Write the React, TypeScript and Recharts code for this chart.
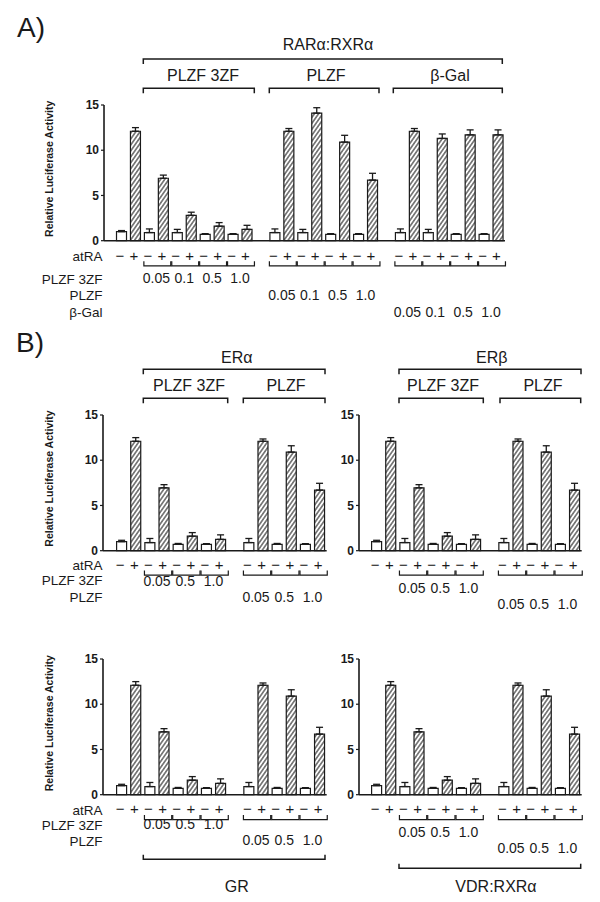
import React from 'react';
import { BarChart, Bar, XAxis, YAxis, ErrorBar, Cell } from 'recharts';

const FONT = "'Liberation Sans', Arial, Helvetica, sans-serif";
const INK = '#1a1a1a';

// Panel A: RARa:RXRa, each entry is one atRA -/+ pair
const rarGroups = ['', 'PLZF 3ZF', 'PLZF 3ZF', 'PLZF 3ZF', 'PLZF 3ZF', 'PLZF', 'PLZF', 'PLZF', 'PLZF', 'β-Gal', 'β-Gal', 'β-Gal', 'β-Gal'];
const rarDoses = ['', '0.05', '0.1', '0.5', '1.0', '0.05', '0.1', '0.5', '1.0', '0.05', '0.1', '0.5', '1.0'];
const rarMinus = [1.0, 0.9, 0.9, 0.7, 0.7, 0.9, 0.9, 0.7, 0.7, 0.9, 0.9, 0.7, 0.7];
const rarMinusErr = [0.12, 0.4, 0.35, 0.08, 0.08, 0.4, 0.35, 0.08, 0.08, 0.4, 0.35, 0.08, 0.08];
const rarPlus = [12.1, 6.9, 2.8, 1.6, 1.25, 12.1, 14.1, 10.9, 6.7, 12.1, 11.3, 11.7, 11.7];
const rarPlusErr = [0.4, 0.35, 0.35, 0.4, 0.45, 0.3, 0.6, 0.75, 0.75, 0.3, 0.5, 0.55, 0.55];
const rarRowNames = ['PLZF 3ZF', 'PLZF', 'β-Gal'];

// Panel B: ERa, ERb, GR and VDR:RXRa all show the same set of values
const bGroups = ['', 'PLZF 3ZF', 'PLZF 3ZF', 'PLZF 3ZF', 'PLZF', 'PLZF', 'PLZF'];
const bDoses = ['', '0.05', '0.5', '1.0', '0.05', '0.5', '1.0'];
const bMinus = [1.0, 0.9, 0.7, 0.7, 0.9, 0.7, 0.7];
const bMinusErr = [0.15, 0.45, 0.1, 0.08, 0.45, 0.1, 0.08];
const bPlus = [12.1, 6.95, 1.6, 1.25, 12.1, 10.9, 6.7];
const bPlusErr = [0.4, 0.35, 0.4, 0.5, 0.25, 0.7, 0.75];
const bRowNames = ['PLZF 3ZF', 'PLZF'];

const yTicks = [0, 5, 10, 15];

type Row = {
  key: string;
  value: number | null;
  err?: [number, number];
  sign: string;
  treated?: boolean;
  dose?: string;
  row?: number;
  bracket?: boolean;
};

function buildRows(groups: string[], doses: string[], minus: number[], minusErr: number[], plus: number[], plusErr: number[], rowNames: string[]): Row[] {
  const rows: Row[] = [];
  groups.forEach((g, i) => {
    // empty slot between groups of transfections
    if (i > 0 && g !== groups[i - 1] && groups[i - 1] !== '') rows.push({ key: `gap${i}`, value: null, sign: '' });
    rows.push({ key: `m${i}`, value: minus[i], err: [0, minusErr[i]], sign: '−', treated: false, dose: doses[i], row: rowNames.indexOf(g), bracket: g !== '' });
    rows.push({ key: `p${i}`, value: plus[i], err: [0, plusErr[i]], sign: '+', treated: true });
  });
  return rows;
}

const rarRows = buildRows(rarGroups, rarDoses, rarMinus, rarMinusErr, rarPlus, rarPlusErr, rarRowNames);
const bRows = buildRows(bGroups, bDoses, bMinus, bMinusErr, bPlus, bPlusErr, bRowNames);

const PLOT_H = 135.7;
const X_H = 90;

type Layout = { id: string; plotLeft: number; plotRight: number; plotTop: number; padLeft: number; signOffset: number; rowOffsets: number[] };

const layoutA: Layout = { id: 'hatchA', plotLeft: 104, plotRight: 505, plotTop: 105, padLeft: 10.5, signOffset: 20.5, rowOffsets: [42.8, 59.5, 76] };
const layoutB: Layout[] = [
  { id: 'hatchER1', plotLeft: 102.7, plotRight: 326.4, plotTop: 414.7, padLeft: 11.6, signOffset: 19.7, rowOffsets: [35, 51.3] },
  { id: 'hatchER2', plotLeft: 359, plotRight: 581.7, plotTop: 414.7, padLeft: 10.6, signOffset: 19.7, rowOffsets: [42.8, 58.5] },
  { id: 'hatchGR', plotLeft: 102.7, plotRight: 326.4, plotTop: 659.3, padLeft: 11.6, signOffset: 20.3, rowOffsets: [34.5, 50.5] },
  { id: 'hatchVDR', plotLeft: 359, plotRight: 581.7, plotTop: 659.3, padLeft: 10.6, signOffset: 20.3, rowOffsets: [42.3, 58.5] },
];

const AssayChart = ({ rows, layout }: { rows: Row[]; layout: Layout }) => {
  const { id, plotLeft, plotRight, plotTop, padLeft, signOffset, rowOffsets } = layout;
  const chartLeft = plotLeft - 40;
  const width = plotRight + 10 - chartLeft;
  const height = 10 + PLOT_H + X_H;
  const base = 10 + PLOT_H;
  const half = (plotRight - plotLeft - padLeft) / rows.length / 2;
  const byKey: Record<string, Row> = Object.fromEntries(rows.map(r => [r.key, r]));

  const renderTick = (p: any) => {
    const r = byKey[p.payload?.value];
    if (!r || !r.sign) return <g />;
    const x = p.x;
    const sy = base + signOffset;
    const by = sy + 4.7;
    const x1 = x - 5.5;
    const x2 = x1 + 4 * half - 1;
    return (
      <g>
        <text x={x - 1.5} y={sy - 0.5} textAnchor="middle" fontSize={15} fontFamily={FONT} fill={INK}>{r.sign}</text>
        {r.bracket && <path d={`M${x1},${sy}V${by}H${x2}V${sy}`} fill="none" stroke={INK} strokeWidth={1.2} />}
        {r.bracket && (
          <text x={x + half} y={base + rowOffsets[r.row ?? 0]} textAnchor="middle" fontSize={14} fontFamily={FONT} fill={INK}>{r.dose}</text>
        )}
      </g>
    );
  };

  return (
    <div style={{ position: 'absolute', left: chartLeft, top: plotTop - 10 }}>
      <BarChart width={width} height={height} data={rows} margin={{ top: 10, right: 10, bottom: 0, left: 10 }}>
        <defs>
          <pattern id={id} patternUnits="userSpaceOnUse" width="3.4" height="3.4" patternTransform="rotate(35)">
            <rect width="3.4" height="3.4" fill="#fff" />
            <line x1="1.7" y1="0" x2="1.7" y2="3.4" stroke="#222" strokeWidth="1.05" />
          </pattern>
        </defs>
        <XAxis
          dataKey="key"
          interval={0}
          height={X_H}
          tickLine={false}
          axisLine={{ stroke: INK, strokeWidth: 1.6 }}
          padding={{ left: padLeft, right: 0 }}
          tick={renderTick}
        />
        <YAxis
          domain={[0, 15]}
          ticks={yTicks}
          width={30}
          tickSize={3}
          tickMargin={2}
          axisLine={{ stroke: INK, strokeWidth: 1.6 }}
          tickLine={{ stroke: INK, strokeWidth: 1.2 }}
          tick={{ fill: INK, fontSize: 12, fontWeight: 'bold', fontFamily: FONT }}
        />
        <Bar dataKey="value" barSize={10} isAnimationActive={false} stroke={INK} strokeWidth={1.2}>
          {rows.map(r => (
            <Cell key={r.key} fill={r.treated ? `url(#${id})` : '#fff'} />
          ))}
          <ErrorBar dataKey="err" width={3.5} stroke={INK} strokeWidth={1.3} direction="y" isAnimationActive={false} />
        </Bar>
      </BarChart>
    </div>
  );
};

const bracketDown = (x1: number, x2: number, y: number) => `M${x1},${y + 5}V${y}H${x2}V${y + 5}`;
const bracketUp = (x1: number, x2: number, y: number) => `M${x1},${y - 4.5}V${y}H${x2}V${y - 4.5}`;

const headers = [
  { text: 'RARα:RXRα', x: 328, y: 50, path: bracketDown(143.3, 502.3, 59) },
  { text: 'PLZF 3ZF', x: 203, y: 81, path: bracketDown(143.3, 254.3, 88.3) },
  { text: 'PLZF', x: 326, y: 81, path: bracketDown(269.3, 379, 88.3) },
  { text: 'β-Gal', x: 450, y: 81, path: bracketDown(393.3, 502.3, 88.3) },
  { text: 'ERα', x: 236.7, y: 363, path: bracketDown(143.3, 325, 369.3) },
  { text: 'ERβ', x: 491.7, y: 363, path: bracketDown(399, 581, 369.3) },
  { text: 'PLZF 3ZF', x: 189, y: 391, path: bracketDown(143.3, 227.7, 398.3) },
  { text: 'PLZF', x: 286, y: 391, path: bracketDown(243.3, 325, 398.3) },
  { text: 'PLZF 3ZF', x: 443, y: 391, path: bracketDown(399, 483.3, 398.3) },
  { text: 'PLZF', x: 543, y: 391, path: bracketDown(500, 580.7, 398.3) },
  { text: 'GR', x: 236.7, y: 891.5, path: bracketUp(143.3, 325, 859.3) },
  { text: 'VDR:RXRα', x: 496, y: 891.5, path: bracketUp(399, 580.7, 868.3) },
];

const RowLabels = ({ layout, names }: { layout: Layout; names: string[] }) => {
  const base = layout.plotTop + PLOT_H;
  return (
    <g fontSize={13.5} fill={INK} textAnchor="end">
      <text x={102.5} y={base + layout.signOffset}>atRA</text>
      {names.map((n, i) => (
        <text key={n} x={102.5} y={base + layout.rowOffsets[i]}>{n}</text>
      ))}
    </g>
  );
};

const YLabel = ({ layout }: { layout: Layout }) => {
  const cy = layout.plotTop + PLOT_H / 2 - 4;
  return (
    <text x={53.5} y={cy} transform={`rotate(-90 53.5 ${cy})`} textAnchor="middle" fontSize={10.5} fontWeight="bold" fill={INK}>
      Relative Luciferase Activity
    </text>
  );
};

export default function App() {
  return (
    <div style={{ position: 'absolute', left: 0, top: 0, width: 600, height: 902, background: '#fff', fontFamily: FONT }}>
      <AssayChart rows={rarRows} layout={layoutA} />
      {layoutB.map(l => (
        <AssayChart key={l.id} rows={bRows} layout={l} />
      ))}
      <svg width={600} height={902} style={{ position: 'absolute', left: 0, top: 0, pointerEvents: 'none' }} fontFamily={FONT}>
        <text x={17} y={37} fontSize={28} fill={INK}>A)</text>
        <text x={16} y={352} fontSize={28} fill={INK}>B)</text>
        {headers.map((h, i) => (
          <g key={i}>
            <text x={h.x} y={h.y} textAnchor="middle" fontSize={16} fill={INK}>{h.text}</text>
            <path d={h.path} fill="none" stroke={INK} strokeWidth={1.5} />
          </g>
        ))}
        <RowLabels layout={layoutA} names={rarRowNames} />
        <RowLabels layout={layoutB[0]} names={bRowNames} />
        <RowLabels layout={layoutB[2]} names={bRowNames} />
        <YLabel layout={layoutA} />
        <YLabel layout={layoutB[0]} />
        <YLabel layout={layoutB[2]} />
      </svg>
    </div>
  );
}
